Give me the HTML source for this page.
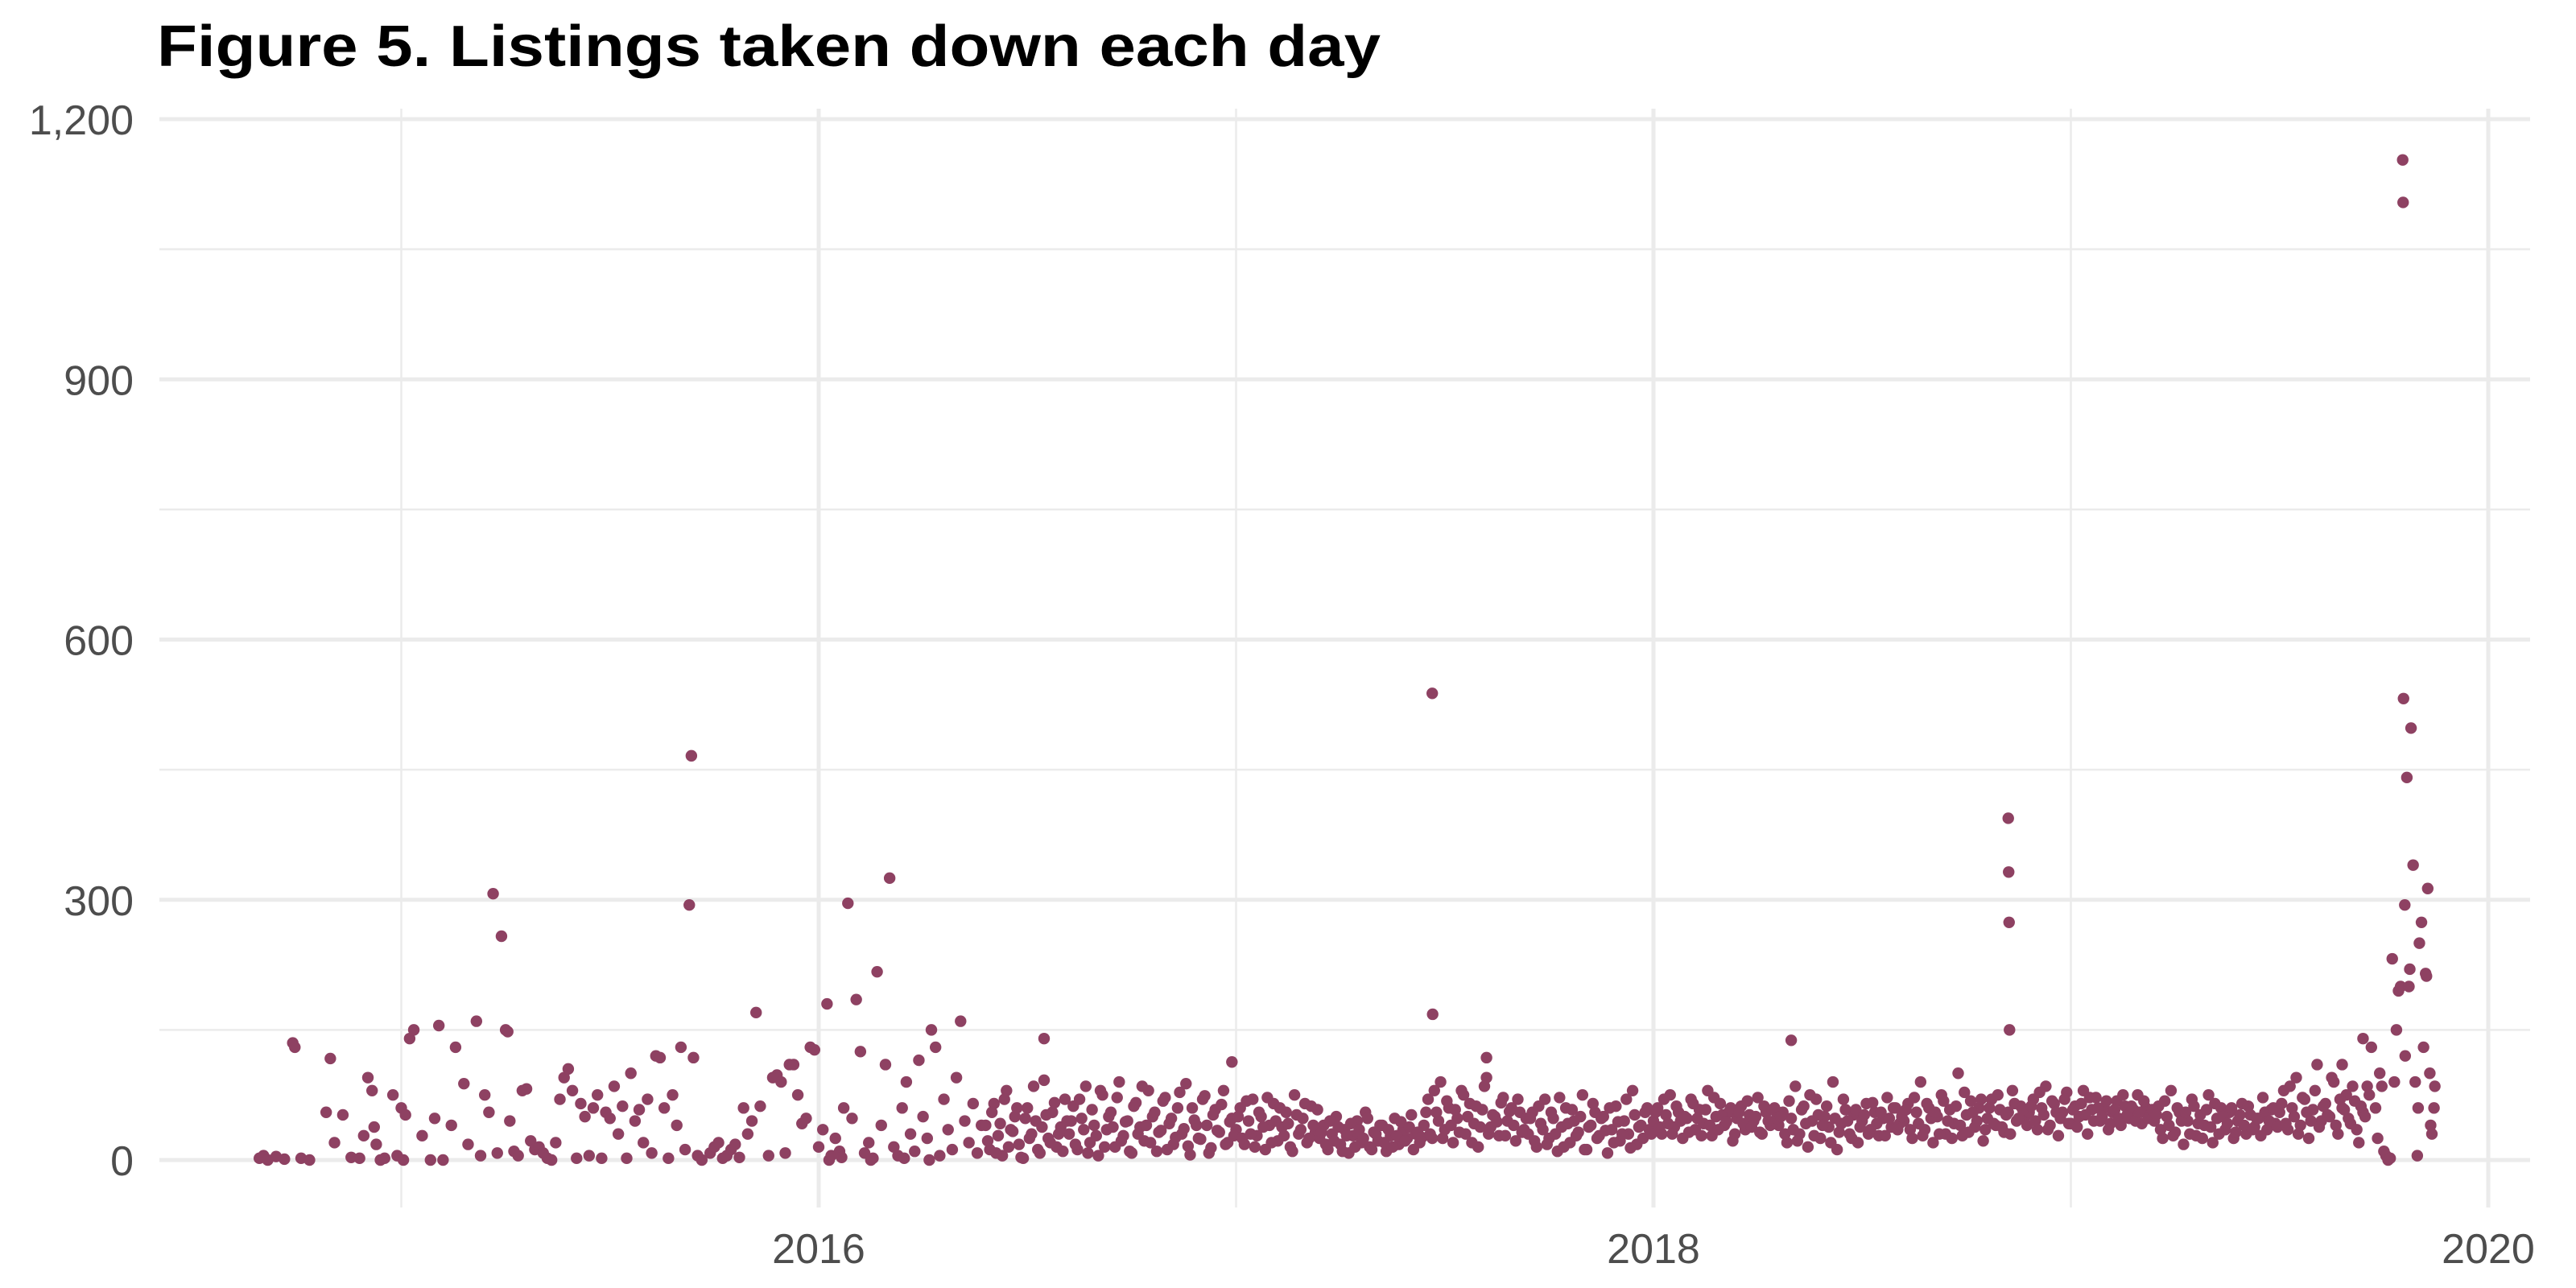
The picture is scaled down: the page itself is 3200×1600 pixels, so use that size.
<!DOCTYPE html>
<html><head><meta charset="utf-8">
<style>
html,body{margin:0;padding:0;background:#fff;}
svg{display:block;}
</style></head>
<body>
<svg id="chart" width="3200" height="1600" xmlns="http://www.w3.org/2000/svg">
<text x="195" y="82" font-family="'Liberation Sans', sans-serif" font-weight="bold" font-size="72" textLength="1520" lengthAdjust="spacingAndGlyphs" fill="#000">Figure 5. Listings taken down each day</text>
<g id="grid"></g>
<g id="axes"></g>
<g id="points"></g>
</svg>
<script>
const yTicks = [0, 300, 600, 900, 1200];
const yTickLabels = ["0", "300", "600", "900", "1,200"];
const yMinor = [150, 450, 750, 1050];
const xTicks = [2016, 2018, 2020];
const xTickLabels = ["2016", "2018", "2020"];
const xMinor = [2015, 2017, 2019];

const sparseDates = [2014.66,2014.67,2014.68,2014.70,2014.72,2014.74,2014.745,2014.76,2014.78,2014.82,2014.83,2014.84,2014.86,2014.88,2014.9,2014.91,2014.92,2014.93,2014.935,2014.94,2014.95,2014.96,2014.98,2014.99,2015.0,2015.01,2015.005,2015.02,2015.03,2015.05,2015.07,2015.08,2015.09,2015.1,2015.13,2015.12,2015.15,2015.16,2015.18,2015.19,2015.2,2015.21,2015.22,2015.23,2015.24,2015.25,2015.255,2015.26,2015.27,2015.28,2015.29,2015.3,2015.31,2015.32,2015.33,2015.34,2015.35,2015.36,2015.37,2015.38,2015.39,2015.4,2015.41,2015.42,2015.43,2015.44,2015.45,2015.46,2015.47,2015.48,2015.49,2015.5,2015.51,2015.52,2015.53,2015.54,2015.55,2015.56,2015.57,2015.58,2015.59,2015.6,2015.61,2015.62,2015.63,2015.64,2015.65,2015.66,2015.67,2015.68,2015.69,2015.695,2015.7,2015.71,2015.72,2015.74,2015.75,2015.76,2015.77,2015.78,2015.79,2015.8,2015.81,2015.82,2015.83,2015.84,2015.85,2015.86,2015.88,2015.89,2015.9,2015.91,2015.92,2015.93,2015.94,2015.95,2015.96,2015.97,2015.98,2015.99,2016.0,2016.01,2016.02,2016.03,2016.04,2016.05,2016.06,2016.07,2016.08,2016.09,2016.1,2016.11,2016.12,2016.13,2016.14,2016.15,2016.16,2016.17,2016.18,2016.19,2016.2,2016.21,2016.22,2016.23,2016.24,2016.25,2016.26,2016.27,2016.28,2016.29,2016.3,2016.31,2016.32,2016.33,2016.34,2016.35,2016.36,2016.37,2016.38,2016.39,2016.025,2016.055,2016.125,2016.205,2016.265];
const sparseValues = [2,5,0,4,1,135,130,2,0,55,117,20,52,3,2,28,95,80,38,18,0,2,75,5,60,52,0,140,150,28,0,48,155,0,130,40,88,18,160,5,75,55,307,8,258,150,148,45,10,5,80,82,22,12,15,8,2,0,20,70,95,105,80,2,65,50,5,60,75,2,55,48,85,30,62,2,100,45,58,20,70,8,120,118,60,2,75,40,130,12,294,466,118,5,0,8,15,20,2,5,12,18,3,60,30,45,170,62,5,95,98,90,8,110,110,75,42,48,130,127,15,35,180,5,25,10,60,296,48,185,125,8,20,2,217,40,110,325,15,5,60,90,30,10,115,50,25,150,130,5,70,35,12,95,160,45,20,65,8,40,0,3,0,2,0];

const bandStart = 2016.40;
const bandStep = 0.01;
const bandValues = [40,12,65,28,5,80,35,50,18,2,60,30,45,8,92,25,55,15,38,70,
30,62,12,48,85,20,40,5,75,35,55,15,90,28,45,8,66,38,22,80,50,10,34,72,42,18,60,30,88,6,46,25,70,40,14,58,32,80,20,48,
35,60,18,45,70,28,50,12,40,65,22,38,55,15,75,30,48,20,62,32,
25,40,12,30,50,18,35,8,28,45,20,55,15,32,22,40,10,28,48,18,35,25,52,30,20,
40,70,25,55,90,35,60,20,48,80,30,65,42,15,58,95,38,50,28,72,45,60,22,55,35,
30,55,15,42,70,25,48,10,38,60,20,45,32,75,12,40,55,28,50,8,35,62,22,45,30,80,18,40,55,35,
45,60,30,52,75,38,55,25,48,70,35,58,42,80,28,50,65,40,55,22,48,62,35,52,45,72,30,55,40,60,
40,55,20,48,85,30,62,15,45,70,25,50,38,90,12,42,58,30,52,20,45,65,35,55,28,48,72,38,60,42,
45,65,25,55,90,35,60,20,50,75,30,58,42,100,28,52,68,38,60,22,48,70,40,58,32,55,80,45,62,50,
55,70,35,60,85,40,65,28,55,78,42,62,50,80,30,58,72,45,60,35,55,68,40,62,48,58,75,42,60,52,
45,62,25,50,80,32,55,18,45,70,28,52,40,75,20,48,60,35,55,25,45,65,30,52,38,48,72,35,58,42,
55,80,35,60,95,40,70,25,58,110,45,65,50,90,30,60,75,42,68,20,55,85];

const band2Start = 2016.405;
const band2Values = [22,55,8,42,70,15,33,60,3,48,25,85,12,38,52,20,66,30,10,45,
45,18,70,35,8,58,28,80,15,50,38,72,22,44,10,62,30,85,40,20,55,32,68,12,48,26,78,36,16,60,40,24,74,8,52,34,64,18,44,28,
50,25,68,30,15,55,38,72,20,45,60,28,42,10,52,35,65,25,40,58,
32,18,45,22,38,10,28,42,15,35,25,48,12,30,40,20,35,15,28,44,22,38,12,32,26,
55,30,80,45,25,68,40,58,32,75,50,20,62,38,85,30,52,44,66,28,56,40,70,32,48,
48,22,62,35,18,55,30,72,15,42,58,28,50,12,38,65,25,48,34,60,20,44,30,70,14,52,38,25,60,30,
55,38,70,42,30,62,45,50,32,65,48,28,58,40,72,35,52,44,60,30,55,42,68,38,50,32,62,45,58,48,
50,30,68,35,22,58,42,75,28,52,40,62,20,48,32,70,45,25,58,38,52,30,66,42,55,28,48,60,35,50,
58,35,72,42,28,65,48,55,30,68,45,25,62,40,78,32,55,45,70,35,60,42,75,38,52,30,65,48,58,40,
62,45,78,52,35,68,55,48,70,42,58,38,65,52,72,45,60,50,68,42,58,48,75,52,62,45,55,68,48,58,
52,35,68,40,28,60,45,55,30,62,42,25,58,38,65,30,50,42,60,32,52,40,62,35,48,28,55,45,60,38,
65,42,85,50,30,72,55,45,80,38,62,52,95,40,70,58,48,85,35,62,50,75];

const tailDates = [2016.54,2016.99,2017.47,2017.471,2017.6,2018.33,2018.85,2018.851,2018.852,2018.853,2019.65,2019.7,2019.72,2019.73,2019.735,2019.74,2019.745,2019.75,2019.755,2019.76,2019.765,2019.77,2019.775,2019.78,2019.785,2019.79,2019.795,2019.796,2019.797,2019.80,2019.801,2019.805,2019.81,2019.812,2019.815,2019.82,2019.825,2019.83,2019.832,2019.835,2019.84,2019.845,2019.85,2019.852,2019.855,2019.86,2019.862,2019.865,2019.87,2019.872];
const tailValues = [140,113,538,168,118,138,394,332,274,150,110,140,130,60,25,100,85,10,5,0,2,232,90,150,195,200,1153,1104,532,294,120,441,200,220,498,340,90,5,60,250,274,130,215,212,313,100,40,30,60,85];

const NS = "http://www.w3.org/2000/svg";
const X0 = 198, X1 = 3143, YTOP = 135, YBOT = 1500;
function xScale(yr){ return 1017 + (yr - 2016) * 518.5; }
function yScale(v){ return 1441 - v * (1293 / 1200); }
function mk(tag, attrs, parent){ const e = document.createElementNS(NS, tag); for (const k in attrs) e.setAttribute(k, attrs[k]); parent.appendChild(e); return e; }

const grid = document.getElementById('grid');
const axes = document.getElementById('axes');
const pts = document.getElementById('points');

yMinor.forEach(v => {
  const l = mk('line', {x1:X0, x2:X1, y1:yScale(v), y2:yScale(v), stroke:'#ebebeb', 'stroke-width':2.5}, grid);
  
  
});
xMinor.forEach(v => {
  const l = mk('line', {x1:xScale(v), x2:xScale(v), y1:YTOP, y2:YBOT, stroke:'#ebebeb', 'stroke-width':2.5}, grid);
  
  
});
yTicks.forEach((v, i) => {
  const l = mk('line', {x1:X0, x2:X1, y1:yScale(v), y2:yScale(v), stroke:'#ebebeb', 'stroke-width':5}, grid);
  
  
  const t = mk('text', {x:166, y:yScale(v) + 19, 'text-anchor':'end', 'font-family':"'Liberation Sans', sans-serif", 'font-size':52, fill:'#4d4d4d'}, axes);
  t.textContent = yTickLabels[i];
  
  
});
xTicks.forEach((v, i) => {
  const l = mk('line', {x1:xScale(v), x2:xScale(v), y1:YTOP, y2:YBOT, stroke:'#ebebeb', 'stroke-width':5}, grid);
  
  
  const t = mk('text', {x:xScale(v), y:1569, 'text-anchor':'middle', 'font-family':"'Liberation Sans', sans-serif", 'font-size':52, fill:'#4d4d4d'}, axes);
  t.textContent = xTickLabels[i];
  
  
});

function dot(yr, v){
  const c = mk('circle', {cx:xScale(yr), cy:yScale(v), r:7.2, fill:'#8e4162'}, pts);
  
  
}
sparseDates.forEach((d, i) => dot(d, sparseValues[i]));
bandValues.forEach((v, i) => dot(bandStart + i * bandStep, v));
band2Values.forEach((v, i) => dot(band2Start + i * bandStep, v));
tailDates.forEach((d, i) => dot(d, tailValues[i]));
</script>
</body></html>
